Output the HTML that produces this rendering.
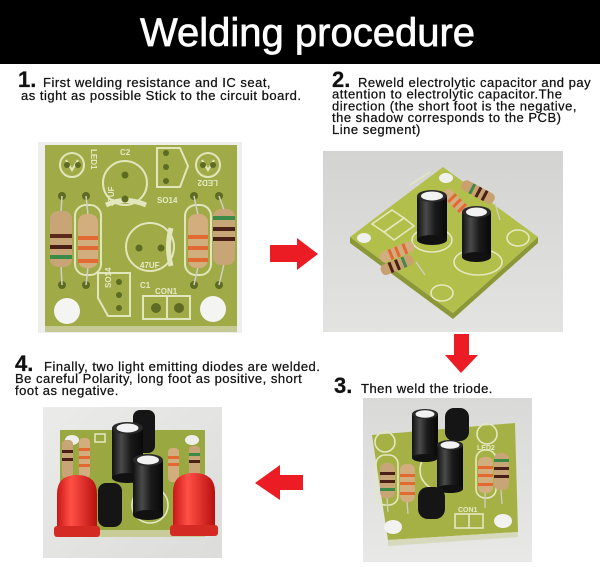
<!DOCTYPE html>
<html>
<head>
<meta charset="utf-8">
<style>
html,body{margin:0;padding:0;background:#fff;}
body{width:600px;height:567px;overflow:hidden;position:relative;}
svg{display:block;font-family:"Liberation Sans",Arial,sans-serif;}
</style>
</head>
<body>
<svg width="600" height="567" viewBox="0 0 600 567" xmlns="http://www.w3.org/2000/svg">
<defs>
  <linearGradient id="bg2" x1="0" y1="0" x2="0" y2="1"><stop offset="0" stop-color="#d3d3d1"/><stop offset="1" stop-color="#e3e3e1"/></linearGradient>
  <linearGradient id="bg3" x1="0" y1="0" x2="0" y2="1"><stop offset="0" stop-color="#d9d9d7"/><stop offset="1" stop-color="#e8e8e6"/></linearGradient>
  <linearGradient id="bg4" x1="0" y1="0" x2="1" y2="1"><stop offset="0" stop-color="#ebebe9"/><stop offset="1" stop-color="#dcdcda"/></linearGradient>
  <linearGradient id="led" x1="0" x2="1"><stop offset="0" stop-color="#c81818"/><stop offset="0.35" stop-color="#ff5046"/><stop offset="1" stop-color="#b80f0f"/></linearGradient>
  <linearGradient id="cap" x1="0" x2="1"><stop offset="0" stop-color="#111"/><stop offset="0.3" stop-color="#4a4a4a"/><stop offset="0.6" stop-color="#1a1a1a"/><stop offset="1" stop-color="#080808"/></linearGradient>
</defs>

<rect x="0" y="0" width="600" height="567" fill="#fff"/>
<!-- Header -->
<rect x="0" y="0" width="600" height="64" fill="#000"/>
<text x="140" y="46" font-size="40" fill="#fff" stroke="#fff" stroke-width="0.7">Welding procedure</text>

<!-- Step texts -->
<g fill="#111" stroke="#111" stroke-width="0.25" font-size="13" letter-spacing="0.5">
  <text x="18" y="87" font-size="22" font-weight="bold" letter-spacing="0">1.</text>
  <text x="43" y="87">First welding resistance and IC seat,</text>
  <text x="21" y="100">as tight as possible Stick to the circuit board.</text>

  <text x="332" y="87" font-size="22" font-weight="bold" letter-spacing="0">2.</text>
  <text x="358" y="87">Reweld electrolytic capacitor and pay</text>
  <text x="332" y="98.7">attention to electrolytic capacitor.The</text>
  <text x="332" y="110.4">direction (the short foot is the negative,</text>
  <text x="332" y="122.1">the shadow corresponds to the PCB)</text>
  <text x="332" y="133.8">Line segment)</text>

  <text x="334" y="393" font-size="22" font-weight="bold" letter-spacing="0">3.</text>
  <text x="361" y="393">Then weld the triode.</text>

  <text x="15" y="371" font-size="22" font-weight="bold" letter-spacing="0">4.</text>
  <text x="44" y="371">Finally, two light emitting diodes are welded.</text>
  <text x="15" y="383">Be careful Polarity, long foot as positive, short</text>
  <text x="15" y="395">foot as negative.</text>
</g>

<!-- Arrows -->
<g fill="#ec1c24">
  <polygon points="270,245 297,245 297,238 318,254 297,270 297,262 270,262"/>
  <polygon points="454,334 469,334 469,355 478,355 461,373 445,355 454,355"/>
  <polygon points="303,475 280,475 280,465 255,483 280,500 280,490 303,490"/>
</g>

<!-- Photo 1 -->
<g>
  <rect x="38" y="142" width="204" height="191" fill="#eeeeec"/>
  <rect x="45" y="145" width="192" height="186" fill="#a0aa46"/>
  <rect x="45" y="326" width="192" height="6" fill="#c5c994"/>
  <g stroke="#e2e6bc" stroke-width="2" fill="none">
    <circle cx="72" cy="165" r="12"/>
    <path d="M66 160 L72 170 L78 160"/>
    <circle cx="208" cy="165" r="12"/>
    <path d="M202 160 L208 170 L214 160"/>
    <circle cx="125" cy="183" r="22"/>
    <path d="M106 205 Q125 196 146 205" stroke-width="5"/>
    <circle cx="150" cy="247" r="24"/>
    <path d="M171 228 Q166 247 171 266" stroke-width="5"/>
    <polygon points="157,148 180,148 188,166 180,187 157,187"/>
    <polygon points="98,273 130,273 130,316 108,316 98,298"/>
    <rect x="143" y="296" width="47" height="23"/>
    <line x1="167" y1="296" x2="167" y2="319"/>
    <rect x="75" y="205" width="26" height="70" rx="11"/>
    <rect x="185" y="205" width="26" height="70" rx="11"/>
  </g>
  <g fill="#5e6b22">
    <circle cx="67" cy="165" r="3"/><circle cx="78" cy="165" r="3"/>
    <circle cx="203" cy="165" r="3"/><circle cx="213" cy="165" r="3"/>
    <circle cx="125" cy="175" r="3.5"/><circle cx="125" cy="199" r="3.5"/>
    <circle cx="139" cy="248" r="3.5"/><circle cx="161" cy="248" r="3.5"/>
    <circle cx="166" cy="153" r="3"/><circle cx="166" cy="167" r="3"/><circle cx="166" cy="181" r="3"/>
    <circle cx="119" cy="282" r="3"/><circle cx="119" cy="295" r="3"/><circle cx="119" cy="308" r="3"/>
    <circle cx="156" cy="308" r="5"/><circle cx="179" cy="308" r="5"/>
    <circle cx="62" cy="196" r="4"/><circle cx="86" cy="196" r="4"/><circle cx="194" cy="196" r="4"/><circle cx="219" cy="196" r="4"/>
    <circle cx="62" cy="285" r="4"/><circle cx="86" cy="285" r="4"/><circle cx="194" cy="285" r="4"/><circle cx="219" cy="285" r="4"/>
  </g>
  <circle cx="67" cy="311" r="13" fill="#f4f4f2"/>
  <circle cx="213" cy="309" r="13" fill="#f4f4f2"/>
  <g stroke="#cfcfc6" stroke-width="1.5">
    <line x1="62" y1="196" x2="61" y2="212"/><line x1="61" y1="266" x2="62" y2="285"/>
    <line x1="86" y1="196" x2="88" y2="215"/><line x1="88" y1="267" x2="86" y2="285"/>
    <line x1="194" y1="196" x2="198" y2="215"/><line x1="198" y1="267" x2="194" y2="285"/>
    <line x1="219" y1="196" x2="224" y2="210"/><line x1="224" y1="264" x2="219" y2="285"/>
  </g>
  <rect x="50" y="211" width="22" height="56" rx="8" fill="#c7a576"/>
  <rect x="50" y="234" width="22" height="4" fill="#5b2a1a"/>
  <rect x="50" y="245" width="22" height="4" fill="#4a1f16"/>
  <rect x="50" y="255" width="22" height="4" fill="#3c8a48"/>
  <rect x="78" y="214" width="20" height="54" rx="8" fill="#d2ad7e"/>
  <rect x="78" y="236" width="20" height="4" fill="#e26a32"/>
  <rect x="78" y="246" width="20" height="4" fill="#e26a32"/>
  <rect x="78" y="259" width="20" height="4" fill="#e26a32"/>
  <rect x="188" y="214" width="20" height="54" rx="8" fill="#d2ad7e"/>
  <rect x="188" y="235" width="20" height="4" fill="#e26a32"/>
  <rect x="188" y="246" width="20" height="4" fill="#e26a32"/>
  <rect x="188" y="258" width="20" height="4" fill="#e26a32"/>
  <rect x="213" y="209" width="22" height="56" rx="8" fill="#c7a576"/>
  <rect x="213" y="216" width="22" height="4" fill="#3c8a48"/>
  <rect x="213" y="227" width="22" height="4" fill="#4a1f16"/>
  <rect x="213" y="237" width="22" height="4" fill="#4a1f16"/>
  <g fill="#e6eac4" font-size="8" font-weight="bold">
    <text transform="translate(114,206) rotate(-90)">47UF</text>
    <text x="157" y="203">SO14</text>
    <text x="140" y="268">47UF</text>
    <text x="140" y="288">C1</text>
    <text x="155" y="294">CON1</text>
    <text transform="translate(91,149) rotate(90)">LED1</text>
    <text transform="translate(218,180) rotate(180)">LED2</text>
    <text transform="translate(111,288) rotate(-90)">SO14</text>
    <text x="120" y="155">C2</text>
  </g>
</g>

<!-- Photo 2 -->
<g>
  <rect x="323" y="151" width="240" height="181" fill="url(#bg2)"/>
  <polygon points="350,237 453,313 538,237 538,243 453,319 350,243" fill="#8c9838"/>
  <polygon points="350,237 443,167 538,237 453,313" fill="#b2bf4a"/>
  <ellipse cx="446" cy="178" rx="7" ry="5" fill="#f0f0ee"/>
  <ellipse cx="364" cy="238" rx="7" ry="5" fill="#f0f0ee"/>
  <g stroke="#e4e8c0" stroke-width="1.6" fill="none">
    <ellipse cx="432" cy="240" rx="20" ry="12"/>
    <ellipse cx="478" cy="262" rx="24" ry="13"/>
    <ellipse cx="518" cy="238" rx="11" ry="8"/>
    <ellipse cx="442" cy="293" rx="11" ry="8"/>
    <polygon points="372,224 392,210 404,218 384,232"/>
    <polygon points="384,232 404,218 414,226 394,240"/>
    <path d="M410 185 L430 172"/>
  </g>
  <g stroke="#cfcfc6" stroke-width="1.3">
    <line x1="495" y1="203" x2="500" y2="220"/>
    <line x1="416" y1="262" x2="425" y2="275"/>
  </g>
  <g transform="translate(478,192) rotate(28)"><rect x="-18" y="-5.5" width="36" height="11" rx="4.5" fill="#c9a070"/><rect x="-8" y="-5.5" width="3" height="11" fill="#3c8a48"/><rect x="-1" y="-5.5" width="3" height="11" fill="#4a1f16"/><rect x="6" y="-5.5" width="3" height="11" fill="#4a1f16"/></g>
  <g transform="translate(456,202) rotate(45)"><rect x="-16" y="-5.5" width="32" height="11" rx="4.5" fill="#d2ad7e"/><rect x="-7" y="-5.5" width="3" height="11" fill="#e26a32"/><rect x="0" y="-5.5" width="3" height="11" fill="#e26a32"/><rect x="7" y="-5.5" width="3" height="11" fill="#e26a32"/></g>
  <g transform="translate(397,252) rotate(-22)"><rect x="-18" y="-5.5" width="36" height="11" rx="4.5" fill="#d2ad7e"/><rect x="-8" y="-5.5" width="3" height="11" fill="#e26a32"/><rect x="-1" y="-5.5" width="3" height="11" fill="#e26a32"/><rect x="7" y="-5.5" width="3" height="11" fill="#e26a32"/></g>
  <g transform="translate(397,265) rotate(-22)"><rect x="-17" y="-5.5" width="34" height="11" rx="4.5" fill="#c9a070"/><rect x="-8" y="-5.5" width="3" height="11" fill="#4a1f16"/><rect x="-1" y="-5.5" width="3" height="11" fill="#4a1f16"/><rect x="6" y="-5.5" width="3" height="11" fill="#3c8a48"/></g>
  <rect x="417" y="196" width="30" height="44" fill="url(#cap)"/>
  <ellipse cx="432" cy="240" rx="15" ry="5" fill="#111"/>
  <ellipse cx="432" cy="196" rx="15" ry="6" fill="#2a2a2a"/>
  <ellipse cx="432" cy="196" rx="11" ry="4.5" fill="#f2f2f2"/>
  <rect x="462" y="212" width="29" height="45" fill="url(#cap)"/>
  <ellipse cx="476.5" cy="257" rx="14.5" ry="5" fill="#111"/>
  <ellipse cx="476.5" cy="212" rx="14.5" ry="6" fill="#2a2a2a"/>
  <ellipse cx="476.5" cy="212" rx="10.5" ry="4.5" fill="#f2f2f2"/>
</g>

<!-- Photo 3 -->
<g>
  <rect x="363" y="398" width="169" height="164" fill="url(#bg3)"/>
  <polygon points="372,435 515,423 518,532 388,540" fill="#a6b145"/>
  <polygon points="388,540 518,532 518,537 388,546" fill="#d6d9bc"/>
  <ellipse cx="393" cy="527" rx="9" ry="7" fill="#f2f2f0"/>
  <ellipse cx="503" cy="521" rx="9" ry="7" fill="#f2f2f0"/>
  <g stroke="#e4e8c0" stroke-width="1.6" fill="none">
    <circle cx="385" cy="442" r="10"/>
    <circle cx="487" cy="434" r="10"/>
    <circle cx="440" cy="470" r="20"/>
    <rect x="455" y="514" width="28" height="14"/>
    <line x1="469" y1="514" x2="469" y2="528"/>
    <rect x="376" y="455" width="22" height="50" rx="9"/>
    <rect x="476" y="450" width="20" height="48" rx="9"/>
  </g>
  <g fill="#e6eac4" font-size="7" font-weight="bold"><text x="458" y="512">CON1</text><text x="477" y="450">LED2</text></g>
  <rect x="380" y="463" width="15" height="35" rx="6" fill="#c7a576"/>
  <rect x="380" y="472" width="15" height="3" fill="#4a1f16"/><rect x="380" y="480" width="15" height="3" fill="#4a1f16"/><rect x="380" y="488" width="15" height="3" fill="#3c8a48"/>
  <rect x="400" y="464" width="15" height="38" rx="6" fill="#d2ad7e"/>
  <rect x="400" y="474" width="15" height="3" fill="#e26a32"/><rect x="400" y="482" width="15" height="3" fill="#e26a32"/><rect x="400" y="492" width="15" height="3" fill="#e26a32"/>
  <rect x="478" y="457" width="15" height="36" rx="6" fill="#d2ad7e"/>
  <rect x="478" y="466" width="15" height="3" fill="#e26a32"/><rect x="478" y="474" width="15" height="3" fill="#e26a32"/><rect x="478" y="483" width="15" height="3" fill="#e26a32"/>
  <rect x="494" y="453" width="15" height="37" rx="6" fill="#c7a576"/>
  <rect x="494" y="459" width="15" height="3" fill="#3c8a48"/><rect x="494" y="467" width="15" height="3" fill="#4a1f16"/><rect x="494" y="475" width="15" height="3" fill="#4a1f16"/>
  <g stroke="#cfcfc6" stroke-width="1.3">
    <line x1="387" y1="498" x2="388" y2="512"/><line x1="407" y1="502" x2="408" y2="514"/>
    <line x1="485" y1="493" x2="485" y2="508"/><line x1="501" y1="490" x2="502" y2="504"/>
  </g>
  <rect x="445" y="408" width="24" height="33" rx="9" fill="#151515"/>
  <rect x="412" y="414" width="26" height="44" fill="url(#cap)"/>
  <ellipse cx="425" cy="458" rx="13" ry="4" fill="#111"/>
  <ellipse cx="425" cy="414" rx="13" ry="5" fill="#2a2a2a"/>
  <ellipse cx="425" cy="414" rx="9.5" ry="3.8" fill="#f2f2f2"/>
  <rect x="437" y="445" width="26" height="44" fill="url(#cap)"/>
  <ellipse cx="450" cy="489" rx="13" ry="4" fill="#111"/>
  <ellipse cx="450" cy="445" rx="13" ry="5" fill="#2a2a2a"/>
  <ellipse cx="450" cy="445" rx="9.5" ry="3.8" fill="#f2f2f2"/>
  <rect x="418" y="487" width="27" height="32" rx="10" fill="#151515"/>
</g>

<!-- Photo 4 -->
<g>
  <rect x="43" y="407" width="179" height="151" fill="url(#bg4)"/>
  <rect x="60" y="430" width="145" height="102" fill="#9aa842"/>
  <rect x="60" y="530" width="145" height="7" fill="#c8cc98"/>
  <ellipse cx="72" cy="440" rx="7" ry="5" fill="#eeeeea"/>
  <ellipse cx="192" cy="440" rx="7" ry="5" fill="#eeeeea"/>
  <rect x="95" y="434" width="10" height="8" fill="none" stroke="#e4e8c0" stroke-width="1.5"/>
  <circle cx="150" cy="505" r="18" fill="none" stroke="#e4e8c0" stroke-width="1.6"/>
  <rect x="62" y="440" width="11" height="38" rx="4" fill="#c7a576"/>
  <rect x="62" y="450" width="11" height="3" fill="#4a1f16"/><rect x="62" y="458" width="11" height="3" fill="#4a1f16"/>
  <rect x="79" y="438" width="11" height="40" rx="4" fill="#d2ad7e"/>
  <rect x="79" y="448" width="11" height="3" fill="#e26a32"/><rect x="79" y="456" width="11" height="3" fill="#e26a32"/><rect x="79" y="464" width="11" height="3" fill="#e26a32"/>
  <rect x="168" y="448" width="11" height="34" rx="4" fill="#d2ad7e"/>
  <rect x="168" y="456" width="11" height="3" fill="#e26a32"/><rect x="168" y="463" width="11" height="3" fill="#e26a32"/>
  <rect x="189" y="446" width="11" height="34" rx="4" fill="#c7a576"/>
  <rect x="189" y="453" width="11" height="3" fill="#3c8a48"/><rect x="189" y="460" width="11" height="3" fill="#4a1f16"/>
  <rect x="133" y="410" width="22" height="43" rx="7" fill="#151515"/>
  <rect x="112" y="428" width="31" height="50" fill="url(#cap)"/>
  <ellipse cx="127.5" cy="478" rx="15.5" ry="5" fill="#111"/>
  <ellipse cx="127.5" cy="428" rx="15.5" ry="6" fill="#2a2a2a"/>
  <ellipse cx="127.5" cy="428" rx="11" ry="4.5" fill="#f2f2f2"/>
  <rect x="133" y="460" width="30" height="55" fill="url(#cap)"/>
  <ellipse cx="148" cy="515" rx="15" ry="5" fill="#111"/>
  <ellipse cx="148" cy="460" rx="15" ry="6" fill="#2a2a2a"/>
  <ellipse cx="148" cy="460" rx="11" ry="4.5" fill="#f2f2f2"/>
  <rect x="98" y="483" width="24" height="44" rx="8" fill="#151515"/>
  <path d="M57 535 L57 494 Q57 475 77 475 Q97 475 97 494 L97 535 Z" fill="url(#led)"/>
  <rect x="54" y="526" width="46" height="11" rx="3" fill="#d42a24"/>
  <path d="M173 533 L173 492 Q173 473 194 473 Q215 473 215 492 L215 533 Z" fill="url(#led)"/>
  <rect x="170" y="525" width="48" height="11" rx="3" fill="#d42a24"/>
</g>
</svg>
</body>
</html>
